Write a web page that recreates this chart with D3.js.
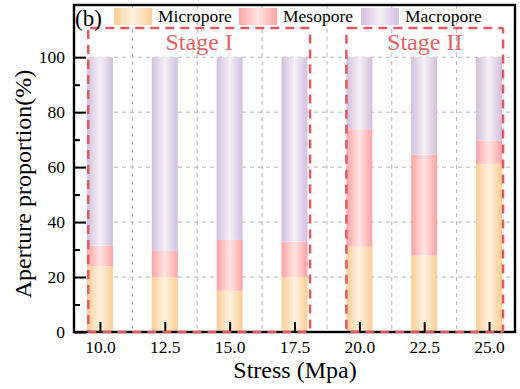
<!DOCTYPE html>
<html>
<head>
<meta charset="utf-8">
<script src="https://cdn.jsdelivr.net/npm/d3@7"></script>
<style>
  body { margin: 0; background: #fff; }
  text { font-family: "Liberation Serif", "Times New Roman", serif; }
</style>
</head>
<body>
<div id="chart"></div>
<script>
// stress levels (Mpa) and pore proportions (%)
const stress = [10.0, 12.5, 15.0, 17.5, 20.0, 22.5, 25.0]
const micropore = [24.0, 20.0, 15.0, 20.0, 31.0, 27.9, 61.2]
const mesopore = [7.4, 9.5, 18.5, 12.9, 42.8, 36.6, 8.5]
const macropore = [68.6, 70.5, 66.5, 67.1, 26.2, 35.5, 30.3]
const seriesNames = ['Micropore', 'Mesopore', 'Macropore']
const yTicks = [0, 20, 40, 60, 80, 100]
const stages = [
  { label: 'Stage I', x0: 9.55, x1: 18.1, top: 110.6 },
  { label: 'Stage II', x0: 19.5, x1: 25.54, top: 110.6 }
]

const W = 520, H = 389
const plot = { left: 74, right: 515, top: 5, bottom: 332 }

const svg = d3.select('#chart').append('svg')
  .attr('width', W).attr('height', H)

const x = d3.scaleLinear().domain([9, 26]).range([plot.left, plot.right])
const y = d3.scaleLinear().domain([0, 119]).range([plot.bottom, plot.top])

// gradients (edge dark, centre light)
const colors = {
  Micropore: ['#fbcd96', '#fff2e0'],
  Mesopore: ['#ffa4a6', '#ffe3e3'],
  Macropore: ['#d2bfdc', '#f5f0f8']
}
const defs = svg.append('defs')
seriesNames.forEach(name => {
  const g = defs.append('linearGradient').attr('id', 'g-' + name)
    .attr('x1', 0).attr('x2', 1).attr('y1', 0).attr('y2', 0)
  g.append('stop').attr('offset', '0%').attr('stop-color', colors[name][0])
  g.append('stop').attr('offset', '50%').attr('stop-color', colors[name][1])
  g.append('stop').attr('offset', '100%').attr('stop-color', colors[name][0])
})

// grid
const minorX = d3.range(0, stress.length - 1).map(i => (stress[i] + stress[i + 1]) / 2)
svg.append('g').selectAll('line').data(minorX).enter().append('line')
  .attr('x1', d => x(d)).attr('x2', d => x(d))
  .attr('y1', plot.top).attr('y2', plot.bottom)
  .attr('stroke', '#b4b4b4').attr('stroke-width', 1).attr('stroke-dasharray', '4,4')
svg.append('g').selectAll('line').data(yTicks.slice(1)).enter().append('line')
  .attr('x1', plot.left).attr('x2', plot.right)
  .attr('y1', d => y(d)).attr('y2', d => y(d))
  .attr('stroke', '#b4b4b4').attr('stroke-width', 1).attr('stroke-dasharray', '4,4')

// stacked bars
const rows = stress.map((s, i) => ({ stress: s, Micropore: micropore[i], Mesopore: mesopore[i], Macropore: macropore[i] }))
const stack = d3.stack().keys(seriesNames)(rows)
const barW = 26
svg.append('g').selectAll('g').data(stack).enter().append('g')
  .attr('fill', d => `url(#g-${d.key})`)
  .selectAll('rect').data(d => d).enter().append('rect')
  .attr('x', d => x(d.data.stress) - barW / 2)
  .attr('width', barW)
  .attr('y', d => y(d[1]))
  .attr('height', d => y(d[0]) - y(d[1]))

// axes
const xAxis = svg.append('g').attr('transform', `translate(0,${plot.bottom})`)
  .call(d3.axisBottom(x).tickValues(stress).tickFormat(d3.format('.1f')).tickSizeInner(-10).tickSizeOuter(0).tickPadding(9))
xAxis.select('.domain').remove()
xAxis.selectAll('line').attr('stroke', '#000').attr('stroke-width', 2)
xAxis.selectAll('text').style('font-size', '17.5px').attr('fill', '#000')

const yAxis = svg.append('g').attr('transform', `translate(${plot.left},0)`)
  .call(d3.axisLeft(y).tickValues(yTicks).tickSizeInner(-12).tickSizeOuter(0).tickPadding(9))
yAxis.select('.domain').remove()
yAxis.selectAll('line').attr('stroke', '#000').attr('stroke-width', 2)
yAxis.selectAll('text').style('font-size', '17.5px').attr('fill', '#000')

const yMinor = svg.append('g').attr('transform', `translate(${plot.left},0)`)
  .call(d3.axisLeft(y).tickValues([10, 30, 50, 70, 90]).tickSizeInner(-6).tickSizeOuter(0).tickFormat(''))
yMinor.select('.domain').remove()
yMinor.selectAll('line').attr('stroke', '#000').attr('stroke-width', 2)

// frame
svg.append('rect')
  .attr('x', plot.left).attr('y', plot.top)
  .attr('width', plot.right - plot.left).attr('height', plot.bottom - plot.top)
  .attr('fill', 'none').attr('stroke', '#000').attr('stroke-width', 2.4)

// stage boxes
stages.forEach(s => {
  svg.append('rect')
    .attr('x', x(s.x0)).attr('y', y(s.top))
    .attr('width', x(s.x1) - x(s.x0)).attr('height', y(0) - y(s.top))
    .attr('rx', 2)
    .attr('fill', 'none').attr('stroke', '#e05a60').attr('stroke-width', 2.5)
    .attr('stroke-dasharray', '9,6')
  svg.append('text')
    .attr('x', x((s.x0 + s.x1) / 2)).attr('y', y(s.top) + 22)
    .attr('text-anchor', 'middle').attr('fill', '#e06266')
    .style('font-size', '24px').text(s.label)
})

// legend
svg.append('text').attr('x', 75).attr('y', 26).style('font-size', '23px').text('(b)')
const legendX = [114, 239, 361]
seriesNames.forEach((name, i) => {
  svg.append('rect').attr('x', legendX[i]).attr('y', 8).attr('width', 38).attr('height', 17)
    .attr('fill', `url(#g-${name})`)
  svg.append('text').attr('x', legendX[i] + 44).attr('y', 22)
    .style('font-size', '17.5px').text(name)
})

// titles
svg.append('text')
  .attr('transform', `translate(31,184) rotate(-90)`)
  .attr('text-anchor', 'middle').style('font-size', '24px').text('Aperture proportion(%)')
svg.append('text')
  .attr('x', 295).attr('y', 378)
  .attr('text-anchor', 'middle').style('font-size', '24px').text('Stress (Mpa)')
</script>
</body>
</html>
